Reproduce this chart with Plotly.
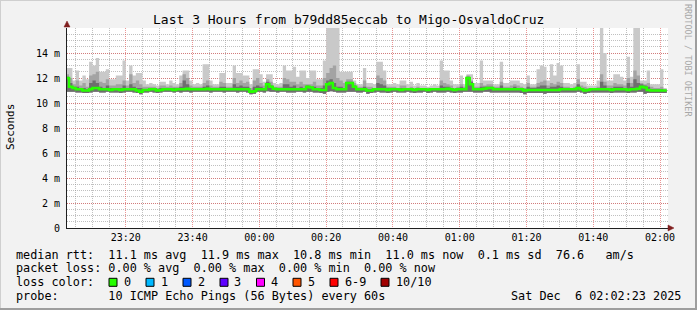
import plotly.graph_objects as go
import pandas as pd

# ---------------- data (per-minute, 23:02 .. 02:01) ----------------
med = [12.0, 11.3, 11.2, 11.1, 11.1, 11.0, 11.0, 11.1, 11.2, 11.2,
       11.1, 11.1, 11.1, 11.05, 11.1, 11.1, 11.05, 11.1, 11.1, 11.1,
       11.1, 11.0, 10.9, 11.05, 11.05, 11.1, 11.1, 11.0, 11.05, 11.1,
       11.1, 11.1, 11.05, 11.1, 11.1, 11.1, 11.15, 11.1, 11.1, 11.1,
       11.1, 11.1, 11.15, 11.1, 11.1, 11.1, 11.1, 11.1, 11.1, 11.1,
       11.1, 11.1, 11.1, 11.1, 11.1, 10.9, 10.95, 11.1, 11.1, 11.1,
       11.5, 11.3, 11.15, 11.1, 11.1, 11.1, 11.1, 11.1, 11.1, 11.1,
       11.1, 11.1, 11.3, 11.25, 11.1, 11.1, 11.05, 11.05, 11.5, 11.6,
       11.2, 11.1, 11.1, 11.1, 11.6, 11.6, 11.3, 11.1, 11.1, 11.1,
       11.0, 11.0, 11.1, 11.1, 11.1, 11.1, 11.05, 11.1, 11.1, 11.1,
       11.05, 11.1, 11.1, 11.1, 11.05, 11.1, 11.1, 11.1, 11.05, 11.1,
       11.1, 11.1, 11.1, 11.1, 11.15, 11.1, 11.05, 11.1, 11.1, 11.1,
       12.0, 11.5, 11.1, 11.1, 11.1, 11.15, 11.2, 11.2, 11.1, 11.1,
       11.1, 11.1, 11.1, 11.1, 11.1, 11.1, 11.1, 11.0, 11.05, 11.05,
       11.05, 11.05, 11.05, 11.05, 11.05, 11.05, 11.05, 11.05, 11.1, 11.1,
       11.1, 11.1, 11.1, 11.2, 11.1, 11.0, 11.05, 11.1, 11.1, 11.1,
       11.1, 11.1, 11.1, 11.05, 11.1, 11.1, 11.1, 11.1, 11.05, 11.1,
       11.1, 11.15, 11.3, 11.25, 11.05, 11.0, 11.0, 11.0, 11.0, 11.0]

hi = [12.8, 12.8, 11.8, 12.6, 11.8, 12.2, 11.9, 13.3, 13.0, 13.6,
      12.5, 12.5, 12.7, 11.9, 11.9, 12.2, 12.2, 13.4, 11.8, 13.0,
      12.2, 12.4, 12.4, 11.8, 11.5, 11.6, 11.5, 11.4, 11.7, 11.7,
      11.5, 11.8, 11.6, 11.5, 12.2, 12.6, 12.6, 11.8, 11.5, 11.6,
      11.5, 13.1, 13.1, 11.8, 11.5, 11.5, 12.4, 12.4, 11.6, 11.6,
      13.0, 12.4, 12.4, 12.2, 12.2, 11.5, 12.7, 12.7, 12.3, 11.7,
      12.3, 12.3, 11.6, 11.5, 11.6, 13.0, 12.6, 12.6, 12.9, 12.1,
      12.6, 12.6, 12.0, 12.6, 12.6, 11.9, 11.9, 13.4, 16.5, 16.5,
      16.5, 16.5, 12.5, 12.5, 12.5, 12.5, 11.8, 11.5, 11.5, 12.8,
      11.6, 11.6, 11.5, 13.3, 13.3, 12.6, 11.5, 11.5, 11.6, 11.5,
      11.8, 11.8, 11.5, 11.7, 11.4, 11.6, 11.4, 11.4, 11.3, 11.4,
      11.5, 11.4, 13.4, 12.6, 12.6, 11.8, 11.5, 11.5, 12.2, 11.5,
      12.3, 12.3, 11.6, 11.6, 13.4, 11.8, 11.8, 11.8, 11.5, 11.5,
      13.3, 11.6, 11.6, 11.8, 11.8, 11.8, 11.6, 11.5, 12.2, 11.5,
      11.5, 12.7, 13.0, 12.9, 11.8, 13.1, 12.2, 13.2, 13.0, 11.6,
      11.6, 11.5, 11.6, 13.1, 11.7, 11.7, 11.4, 11.4, 11.4, 11.8,
      16.5, 14.0, 11.8, 11.8, 12.3, 12.3, 12.1, 11.8, 13.7, 12.1,
      16.5, 16.5, 11.8, 11.8, 12.6, 11.5, 11.5, 11.5, 12.7, 11.2]

mid = [12.3, 12.0, 11.5, 11.8, 11.4, 11.6, 11.3, 12.2, 12.3, 12.5,
       11.7, 11.6, 11.9, 11.4, 11.4, 11.5, 11.5, 11.8, 11.4, 12.3,
       11.6, 11.8, 11.5, 11.3, 11.3, 11.3, 11.3, 11.2, 11.4, 11.4,
       11.3, 11.4, 11.3, 11.3, 11.6, 12.3, 12.0, 11.4, 11.3, 11.3,
       11.3, 11.6, 11.8, 11.4, 11.3, 11.3, 11.7, 11.6, 11.3, 11.3,
       12.0, 11.6, 11.8, 11.6, 11.7, 11.2, 11.8, 12.0, 11.6, 11.4,
       11.9, 11.7, 11.3, 11.3, 11.3, 12.0, 11.9, 11.7, 11.7, 11.5,
       11.7, 11.5, 11.5, 11.5, 11.7, 11.4, 11.4, 12.0, 12.4, 12.8,
       13.0, 12.0, 11.8, 11.6, 11.9, 11.9, 11.6, 11.3, 11.3, 11.8,
       11.3, 11.3, 11.2, 12.2, 12.0, 11.8, 11.3, 11.3, 11.3, 11.2,
       11.4, 11.4, 11.2, 11.3, 11.2, 11.3, 11.2, 11.2, 11.2, 11.2,
       11.2, 11.2, 11.8, 11.6, 11.5, 11.4, 11.2, 11.3, 11.5, 11.3,
       12.2, 11.8, 11.3, 11.3, 11.6, 11.4, 11.5, 11.5, 11.3, 11.3,
       11.7, 11.3, 11.3, 11.4, 11.5, 11.4, 11.3, 11.2, 11.6, 11.3,
       11.3, 11.6, 11.7, 11.8, 11.4, 11.6, 11.5, 11.7, 11.6, 11.3,
       11.3, 11.2, 11.3, 11.9, 11.4, 11.3, 11.2, 11.2, 11.2, 11.3,
       12.3, 11.7, 11.4, 11.4, 11.6, 11.5, 11.5, 11.4, 12.0, 11.6,
       12.6, 12.2, 11.6, 11.5, 11.6, 11.3, 11.2, 11.2, 11.3, 11.1]

dk = [12.1, 11.6, 11.3, 11.3, 11.2, 11.2, 11.1, 11.6, 11.8, 11.6,
      11.3, 11.2, 11.4, 11.2, 11.2, 11.2, 11.2, 11.4, 11.2, 11.5,
      11.3, 11.2, 11.2, 11.1, 11.1, 11.2, 11.2, 11.1, 11.2, 11.2,
      11.2, 11.2, 11.2, 11.2, 11.3, 11.8, 11.5, 11.2, 11.2, 11.2,
      11.2, 11.3, 11.4, 11.2, 11.2, 11.2, 11.3, 11.3, 11.2, 11.2,
      11.5, 11.3, 11.4, 11.3, 11.3, 11.0, 11.3, 11.4, 11.3, 11.2,
      11.7, 11.4, 11.2, 11.2, 11.2, 11.5, 11.5, 11.3, 11.4, 11.2,
      11.3, 11.2, 11.4, 11.3, 11.3, 11.2, 11.2, 11.4, 11.8, 11.9,
      11.6, 11.3, 11.3, 11.2, 11.7, 11.7, 11.4, 11.2, 11.2, 11.3,
      11.1, 11.1, 11.2, 11.6, 11.5, 11.4, 11.2, 11.2, 11.2, 11.2,
      11.2, 11.2, 11.2, 11.2, 11.1, 11.2, 11.2, 11.2, 11.1, 11.2,
      11.2, 11.2, 11.4, 11.3, 11.3, 11.2, 11.1, 11.2, 11.3, 11.2,
      12.1, 11.7, 11.2, 11.2, 11.3, 11.3, 11.3, 11.3, 11.2, 11.2,
      11.4, 11.2, 11.2, 11.2, 11.3, 11.2, 11.2, 11.1, 11.3, 11.2,
      11.2, 11.3, 11.4, 11.4, 11.2, 11.3, 11.3, 11.4, 11.3, 11.2,
      11.2, 11.2, 11.2, 11.5, 11.2, 11.1, 11.1, 11.2, 11.2, 11.2,
      11.7, 11.4, 11.2, 11.2, 11.3, 11.3, 11.3, 11.2, 11.6, 11.3,
      11.9, 11.6, 11.5, 11.4, 11.3, 11.1, 11.1, 11.1, 11.1, 11.0]

lo = [10.9, 10.9, 10.9, 10.85, 10.85, 10.8, 10.8, 10.85, 10.9, 10.9,
      10.85, 10.85, 10.9, 10.85, 10.85, 10.85, 10.8, 10.85, 10.9, 10.9,
      10.85, 10.8, 10.7, 10.85, 10.85, 10.9, 10.85, 10.8, 10.85, 10.9,
      10.9, 10.9, 10.85, 10.9, 10.85, 10.9, 10.9, 10.85, 10.9, 10.9,
      10.9, 10.9, 10.9, 10.85, 10.9, 10.9, 10.9, 10.85, 10.9, 10.9,
      10.9, 10.85, 10.9, 10.9, 10.85, 10.7, 10.75, 10.9, 10.9, 10.85,
      10.95, 10.9, 10.9, 10.85, 10.9, 10.9, 10.85, 10.85, 10.85, 10.9,
      10.9, 10.85, 10.9, 10.9, 10.85, 10.85, 10.8, 10.75, 10.9, 10.95,
      10.9, 10.85, 10.85, 10.85, 10.9, 10.9, 10.9, 10.85, 10.85, 10.9,
      10.75, 10.8, 10.85, 10.9, 10.85, 10.85, 10.8, 10.85, 10.9, 10.85,
      10.85, 10.85, 10.9, 10.85, 10.8, 10.85, 10.85, 10.9, 10.8, 10.85,
      10.9, 10.85, 10.85, 10.85, 10.9, 10.85, 10.8, 10.85, 10.85, 10.9,
      10.9, 10.9, 10.85, 10.85, 10.85, 10.9, 10.9, 10.85, 10.85, 10.85,
      10.85, 10.85, 10.85, 10.85, 10.85, 10.85, 10.8, 10.7, 10.8, 10.8,
      10.8, 10.8, 10.8, 10.75, 10.8, 10.8, 10.8, 10.8, 10.85, 10.85,
      10.85, 10.85, 10.85, 10.9, 10.85, 10.75, 10.8, 10.85, 10.85, 10.85,
      10.85, 10.85, 10.85, 10.8, 10.85, 10.85, 10.85, 10.85, 10.8, 10.85,
      10.85, 10.9, 10.9, 10.75, 10.8, 10.8, 10.8, 10.8, 10.8, 10.8]

y_ticks = [0, 2, 4, 6, 8, 10, 12, 14]
y_ticktext = ["0", "2 m", "4 m", "6 m", "8 m", "10 m", "12 m", "14 m"]

title_text = "Last 3 Hours from b79dd85eccab to Migo-OsvaldoCruz"
legend_rows = [
    "median rtt:  11.1 ms avg  11.9 ms max  10.8 ms min  11.0 ms now  0.1 ms sd  76.6   am/s",
    "packet loss: 0.00 % avg  0.00 % max  0.00 % min  0.00 % now",
    "loss color:",
    "probe:       10 ICMP Echo Pings (56 Bytes) every 60s",
]
date_text = "Sat Dec  6 02:02:23 2025"
loss_labels = ["0", "1", "2", "3", "4", "5", "6-9", "10/10"]
loss_colors = ["#26ff00", "#00b8ff", "#0059ff", "#5e00ff", "#ff00fe", "#ff5500", "#ff0000", "#a10000"]

# ---------------- geometry helpers ----------------
W, H = 697, 310
L, R, T, B = 67, 668, 28, 228


def px(x):
    return (x - L) / (R - L)


def py(y):
    return (B - y) / (B - T)


FONT = "DejaVu Sans Mono"
times = pd.date_range("2025-12-05 23:02:00", periods=len(med) + 1, freq="min")


def step(v):
    return list(v) + [v[-1]]


fig = go.Figure()
bands = [(hi, "#c9c9c9"), (mid, "#a3a3a3"), (dk, "#6e6e6e")]
for top, col in bands:
    fig.add_trace(go.Scatter(x=times, y=step(lo), mode="lines",
                             line=dict(width=0, shape="hv"), hoverinfo="skip", showlegend=False))
    fig.add_trace(go.Scatter(x=times, y=step(top), mode="lines", fill="tonexty", fillcolor=col,
                             line=dict(width=0, shape="hv"), hoverinfo="skip", showlegend=False))
fig.add_trace(go.Scatter(x=times, y=step(med), mode="lines",
                         line=dict(color="#26ff00", width=2.5, shape="hv"), showlegend=False))

grid_minor = "rgba(140,140,140,0.55)"
grid_major = "rgba(222,79,79,0.6)"
dash = "1px,1px"

fig.update_layout(
    width=W, height=H,
    margin=dict(l=L, r=W - R, t=T, b=H - B, pad=0),
    paper_bgcolor="#f2f2f2", plot_bgcolor="#ffffff",
    showlegend=False,
    font=dict(family=FONT, color="#000000", size=10),
    xaxis=dict(
        type="date",
        range=["2025-12-05 23:02:23", "2025-12-06 02:02:23"],
        tickformat="%H:%M", dtick=1200000, tick0="2025-12-05 23:20:00",
        showgrid=True, gridcolor=grid_major, griddash=dash, gridwidth=1,
        minor=dict(dtick=300000, tick0="2025-12-05 23:05:00", showgrid=True,
                   gridcolor=grid_minor, griddash=dash, gridwidth=1),
        showline=True, linecolor="#1f1f1f", linewidth=1,
        ticks="", tickfont=dict(family=FONT, size=10), zeroline=False,
        fixedrange=True,
    ),
    yaxis=dict(
        range=[0, 16], tickmode="array", tickvals=y_ticks, ticktext=y_ticktext,
        showgrid=True, gridcolor=grid_major, griddash=dash, gridwidth=1,
        minor=dict(dtick=0.5, tick0=0, showgrid=True,
                   gridcolor=grid_minor, griddash=dash, gridwidth=1),
        showline=True, linecolor="#1f1f1f", linewidth=1,
        ticks="", ticklabelstandoff=4, tickfont=dict(family=FONT, size=10), zeroline=False,
        fixedrange=True,
    ),
)

annotations = []


def add_text(x, y, text, size, xanchor="left", color="#000000", angle=0):
    annotations.append(dict(
        x=px(x), y=py(y), xref="paper", yref="paper", text=text, showarrow=False,
        xanchor=xanchor, yanchor="middle", textangle=angle,
        font=dict(family=FONT, size=size, color=color), borderpad=0, borderwidth=0,
    ))


add_text(W / 2, 19, title_text, 13, xanchor="center")
add_text(10, 127, "Seconds", 11, xanchor="center", angle=-90)
add_text(688, 60, "RRDTOOL / TOBI OETIKER", 8.5, xanchor="center", color="#a8a8a8", angle=90)

row_y = [254.5, 268.3, 282.3, 296.2]
for txt, yy in zip(legend_rows, row_y):
    add_text(16, yy, txt.replace(" ", "&nbsp;"), 11.8)
add_text(681, row_y[3], date_text.replace(" ", "&nbsp;"), 11.8, xanchor="right")

shapes = []
box_x = [109, 146, 183, 220, 256.5, 293, 330, 381]
for bx, lab, colr in zip(box_x, loss_labels, loss_colors):
    shapes.append(dict(type="rect", xref="paper", yref="paper",
                       x0=px(bx), x1=px(bx + 8), y0=py(row_y[2] + 4), y1=py(row_y[2] - 4),
                       fillcolor=colr, line=dict(color="#000000", width=1)))
    add_text(bx + 14.5, row_y[2], lab, 11.8)

# axis arrows
arrow = "#801f1f"
shapes.append(dict(type="path", xref="paper", yref="paper",
                   path=f"M {px(64)},{py(27)} L {px(70)},{py(27)} L {px(67)},{py(21)} Z",
                   fillcolor=arrow, line=dict(color=arrow, width=0.5)))
shapes.append(dict(type="path", xref="paper", yref="paper",
                   path=f"M {px(668)},{py(225)} L {px(668)},{py(231)} L {px(674)},{py(228)} Z",
                   fillcolor=arrow, line=dict(color=arrow, width=0.5)))
# frame (3D shading)
shapes.append(dict(type="line", xref="paper", yref="paper", x0=px(0), x1=px(W), y0=py(0.5), y1=py(0.5),
                   line=dict(color="#cfcfcf", width=1)))
shapes.append(dict(type="line", xref="paper", yref="paper", x0=px(0.5), x1=px(0.5), y0=py(0), y1=py(H),
                   line=dict(color="#cfcfcf", width=1)))
shapes.append(dict(type="line", xref="paper", yref="paper", x0=px(0), x1=px(W), y0=py(H - 1), y1=py(H - 1),
                   line=dict(color="#9e9e9e", width=2)))
shapes.append(dict(type="line", xref="paper", yref="paper", x0=px(W - 1), x1=px(W - 1), y0=py(0), y1=py(H),
                   line=dict(color="#9e9e9e", width=2)))

fig.update_layout(annotations=annotations, shapes=shapes)
fig.write_html("out.html", config={"displayModeBar": False})
